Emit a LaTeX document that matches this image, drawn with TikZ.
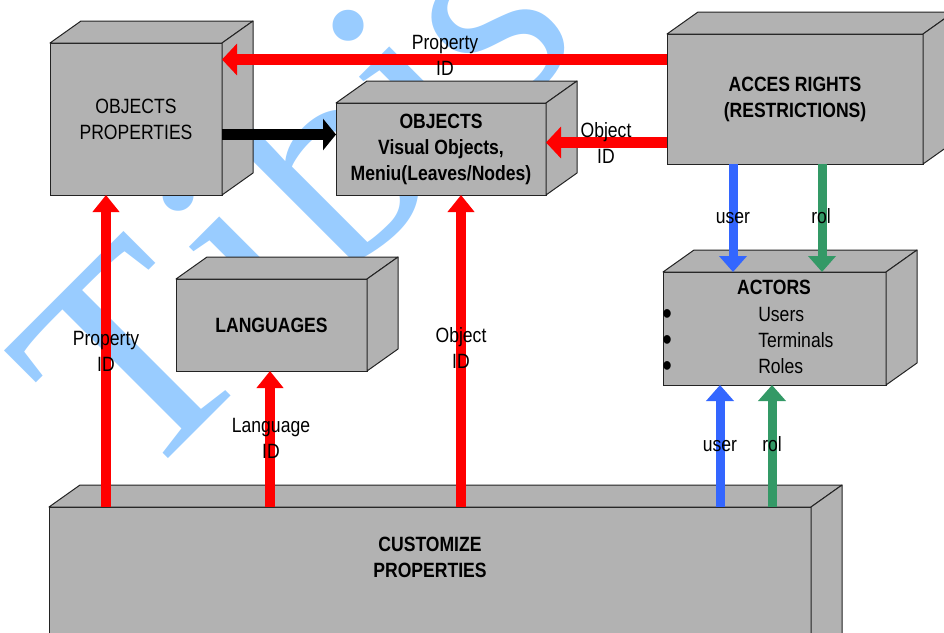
\documentclass[tikz,border=0pt]{standalone}
\usepackage{fontspec}
\setmainfont{Liberation Sans}[FakeStretch=0.85]
\newfontfamily\wmfont{Liberation Serif}
\usetikzlibrary{arrows.meta,calc}
\definecolor{boxgray}{RGB}{178,178,178}
\definecolor{wmblue}{RGB}{153,204,255}
\definecolor{arblue}{RGB}{51,102,255}
\definecolor{argreen}{RGB}{51,153,102}
\definecolor{edgecol}{RGB}{35,35,35}
\newcommand\twol[2]{\begin{tabular}[t]{@{}c@{}}#1\\#2\end{tabular}}
\newcommand\cubefaces[1]{%
  \filldraw[face] (#1.north west) -- ++(31,-22) -- ([shift={(31,-22)}]#1.north east) -- (#1.north east) -- cycle;
  \filldraw[face] (#1.north east) -- ++(31,-22) -- ([shift={(31,-22)}]#1.south east) -- (#1.south east) -- cycle;}
\begin{document}
\begin{tikzpicture}[x=0.75pt,y=-0.75pt,
  every node/.style={font=\fontsize{15.5}{19.5}\selectfont},
  cube/.style={draw=edgecol, fill=boxgray, line width=0.75pt, inner sep=0pt, outer sep=0pt, align=center},
  face/.style={draw=edgecol, fill=boxgray, line width=0.75pt, line join=round},
  lbl/.style={anchor=base, inner sep=0pt},
  bul/.style={anchor=base, inner sep=0pt, font=\fontsize{24}{24}\selectfont},
  redh/.style={draw=red, line width=8.25pt, -{Triangle[width=23.25pt,length=11.25pt]}},
  redv/.style={draw=red, line width=7.1pt, -{Triangle[width=19.5pt,length=12.75pt]}},
  blk/.style={draw=black, line width=8.25pt, -{Triangle[width=23.25pt,length=9.75pt]}},
  bluv/.style={draw=arblue, line width=6.75pt, -{Triangle[width=20.25pt,length=12pt]}},
  grnv/.style={draw=argreen, line width=6.75pt, -{Triangle[width=20.25pt,length=12pt]}}
]
\useasboundingbox (0,0) rectangle (944,632);
\clip (0,0) rectangle (944,632);
% watermark
\node[rotate=45, anchor=base west, text=wmblue, inner sep=0pt,
  font=\wmfont\fontsize{220}{220}\selectfont] (wm) at (136,491) {T\kern15pt i\kern12pt b\kern-2pt is};
% boxes
\node[cube, minimum width=129pt, minimum height=114pt] (op) at (136,119) {OBJECTS\\PROPERTIES};
\cubefaces{op}
\node[cube, minimum width=157.5pt, minimum height=69pt, font=\fontsize{15.5}{19.5}\selectfont\bfseries] (obj) at (441,149) {OBJECTS\\Visual Objects,\\Meniu(Leaves/Nodes)};
\cubefaces{obj}
\node[cube, minimum width=192pt, minimum height=97.5pt, font=\fontsize{15.5}{19.5}\selectfont\bfseries] (ar) at (795,99) {ACCES RIGHTS\\(RESTRICTIONS)};
\cubefaces{ar}
\node[cube, minimum width=167.25pt, minimum height=84.75pt] (act) at (774.5,328.5) {};
\cubefaces{act}
\node[cube, minimum width=143.25pt, minimum height=69pt, font=\fontsize{15.5}{19.5}\selectfont\bfseries] (lang) at (271.5,325) {LANGUAGES};
\cubefaces{lang}
\node[cube, minimum width=571.5pt, minimum height=144.75pt] (cust) at (430,603.5) {};
\cubefaces{cust}
\node[lbl, font=\fontsize{15.5}{19.5}\selectfont\bfseries] (custt) at (430,551) {\twol{CUSTOMIZE}{PROPERTIES}};
% actors content
\node[lbl, font=\fontsize{15.5}{19.5}\selectfont\bfseries] (actt) at (774,294) {ACTORS};
\node[lbl, anchor=base west] (a1) at (758,321) {Users};
\node[lbl, anchor=base west] (a2) at (758,347) {Terminals};
\node[lbl, anchor=base west] (a3) at (758,373) {Roles};
\node[bul] (b1) at (667,324) {•};
\node[bul] (b2) at (667,350) {•};
\node[bul] (b3) at (667,376) {•};
% connectors
\draw[redh] ($(ar.north west)+(0,25.5)$) -- ($(op.north east)+(0,16.5)$);
\draw[blk] ($(op.north east)+(0,91.5)$) -- ($(obj.north west)+(0,31.5)$);
\draw[redh] ($(ar.north west)+(0,108.5)$) -- ($(obj.north east)+(0,39.5)$);
\draw[bluv] ($(ar.south west)+(66,0)$) -- ($(act.north west)+(70,0)$);
\draw[grnv] ($(ar.south west)+(155,0)$) -- ($(act.north west)+(159,0)$);
\draw[redv] ($(cust.north west)+(57,0)$) -- ($(op.south west)+(56,0)$);
\draw[redv] ($(cust.north west)+(221,0)$) -- ($(lang.south west)+(94,0)$);
\draw[redv] ($(cust.north west)+(412,0)$) -- ($(obj.south west)+(125,0)$);
\draw[bluv] ($(cust.north west)+(671,0)$) -- ($(act.south west)+(57,0)$);
\draw[grnv] ($(cust.north west)+(723,0)$) -- ($(act.south west)+(109,0)$);
% labels
\node[lbl] (lpt) at (445,49) {\twol{Property}{ID}};
\node[lbl] (lot) at (606,137) {\twol{Object}{ID}};
\node[lbl] (lu1) at (733,223) {user};
\node[lbl] (lr1) at (821,223) {rol};
\node[lbl] (lu2) at (720,451) {user};
\node[lbl] (lr2) at (772,451) {rol};
\node[lbl] (lpl) at (106,345) {\twol{Property}{ID}};
\node[lbl] (lll) at (271,432) {\twol{Language}{ID}};
\node[lbl] (lom) at (461,342) {\twol{Object}{ID}};
\end{tikzpicture}
\end{document}
